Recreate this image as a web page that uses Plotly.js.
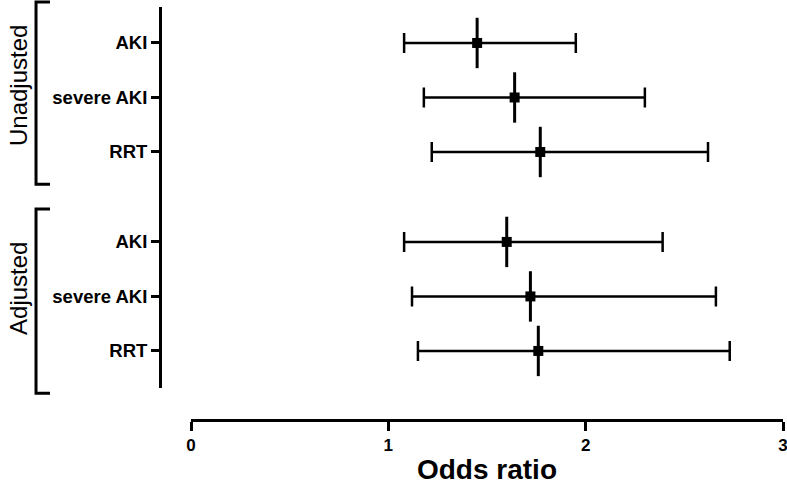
<!DOCTYPE html>
<html>
<head>
<meta charset="utf-8">
<script src="https://cdn.plot.ly/plotly-3.0.1.min.js"></script>
<style>html,body{margin:0;padding:0;background:#fff;}#chart{width:787px;height:485px;}</style>
</head>
<body>
<div id="chart"></div>
<script>
// ---- data ----
const groups = ['Unadjusted', 'Adjusted'];
const outcomes = ['AKI', 'severe AKI', 'RRT'];
const orUnadjusted = [1.45, 1.64, 1.77];
const lowerUnadjusted = [1.08, 1.18, 1.22];
const upperUnadjusted = [1.95, 2.30, 2.62];
const orAdjusted = [1.60, 1.72, 1.76];
const lowerAdjusted = [1.08, 1.12, 1.15];
const upperAdjusted = [2.39, 2.66, 2.73];
const xTickVals = [0, 1, 2, 3];
const xTickText = ['0', '1', '2', '3'];

// ---- build rows ----
const groupGap = 0.65;
const orAll = orUnadjusted.concat(orAdjusted);
const loAll = lowerUnadjusted.concat(lowerAdjusted);
const hiAll = upperUnadjusted.concat(upperAdjusted);
const yPos = [], yText = [];
groups.forEach((g, gi) => outcomes.forEach((o, oi) => {
  yPos.push(oi + gi * (outcomes.length + groupGap));
  yText.push(o);
}));

const font = 'Liberation Sans, Arial, Helvetica, sans-serif';

const traces = [
  {
    type: 'scatter', mode: 'markers',
    x: orAll, y: yPos,
    marker: {symbol: 'square', size: 10, color: '#000'},
    error_x: {
      type: 'data', symmetric: false,
      array: hiAll.map((h, i) => h - orAll[i]),
      arrayminus: loAll.map((l, i) => orAll[i] - l),
      color: '#000', thickness: 2.5, width: 10
    },
    hoverinfo: 'x+y', showlegend: false
  },
  {
    type: 'scatter', mode: 'markers',
    x: orAll, y: yPos,
    marker: {symbol: 'line-ns-open', size: 36, color: '#000', line: {width: 3, color: '#000'}},
    hoverinfo: 'skip', showlegend: false
  }
];

const layout = {
  width: 787, height: 485,
  margin: {l: 160, r: 4, t: 7, b: 65},
  paper_bgcolor: '#fff', plot_bgcolor: '#fff',
  showlegend: false,
  xaxis: {
    domain: [31 / 623, 1],
    anchor: 'free', position: 0,
    range: [0, 3],
    tickvals: xTickVals, ticktext: xTickText,
    ticklabeloverflow: 'allow',
    showgrid: false, zeroline: false,
    showline: true, linecolor: '#000', linewidth: 3,
    ticks: 'outside', ticklen: 9, tickwidth: 3, tickcolor: '#000',
    tickfont: {family: font, size: 17, color: '#000', weight: 'bold'},
    title: {text: 'Odds ratio', font: {family: font, size: 28, color: '#000', weight: 'bold'}, standoff: 10},
    fixedrange: true
  },
  yaxis: {
    domain: [32 / 413, 1],
    anchor: 'free', position: 0,
    range: [6.33, -0.66],
    tickvals: yPos, ticktext: yText,
    showgrid: false, zeroline: false,
    showline: true, linecolor: '#000', linewidth: 3,
    ticks: 'outside', ticklen: 8, tickwidth: 3, tickcolor: '#000',
    tickfont: {family: font, size: 18.5, color: '#000', weight: 'bold'},
    fixedrange: true
  },
  shapes: [
    {type: 'path', xref: 'paper', yref: 'paper',
     path: 'M -0.1766,1.012 L -0.199,1.012 L -0.199,0.571 L -0.1766,0.571',
     line: {color: '#000', width: 3}},
    {type: 'path', xref: 'paper', yref: 'paper',
     path: 'M -0.1766,0.511 L -0.199,0.511 L -0.199,0.065 L -0.1766,0.065',
     line: {color: '#000', width: 3}}
  ],
  annotations: [
    {text: groups[0], xref: 'paper', yref: 'paper', x: -0.228, y: 0.811,
     textangle: -90, showarrow: false, xanchor: 'center', yanchor: 'middle',
     font: {family: font, size: 24, color: '#000'}},
    {text: groups[1], xref: 'paper', yref: 'paper', x: -0.228, y: 0.3196,
     textangle: -90, showarrow: false, xanchor: 'center', yanchor: 'middle',
     font: {family: font, size: 24, color: '#000'}}
  ]
};

Plotly.newPlot('chart', traces, layout, {displayModeBar: false, staticPlot: true});
</script>
</body>
</html>
